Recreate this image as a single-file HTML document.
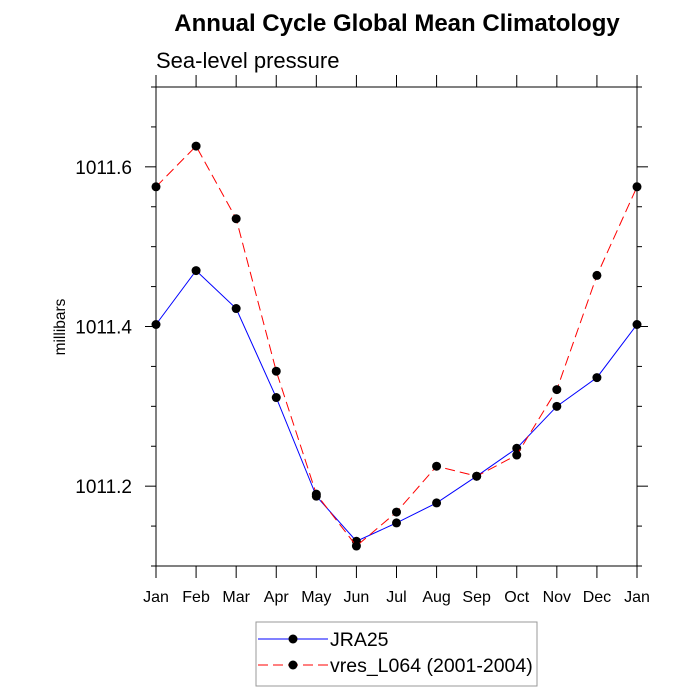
<!DOCTYPE html>
<html><head><meta charset="utf-8"><style>body{margin:0;background:#fff}svg{display:block}text{font-family:"Liberation Sans",sans-serif}</style></head>
<body>
<svg id="c" width="700" height="700"></svg>
<script>
const months=["Jan","Feb","Mar","Apr","May","Jun","Jul","Aug","Sep","Oct","Nov","Dec","Jan"];
const jra25=[1011.4025,1011.47,1011.4225,1011.311,1011.1875,1011.131,1011.154,1011.179,1011.2125,1011.2475,1011.30,1011.336,1011.4025];
const vres=[1011.575,1011.626,1011.535,1011.344,1011.19,1011.125,1011.1675,1011.225,1011.2125,1011.239,1011.321,1011.464,1011.575];
const yMajor=[1011.2,1011.4,1011.6];
const yMinor=[1011.1,1011.15,1011.25,1011.3,1011.35,1011.45,1011.5,1011.55,1011.65,1011.7];
const yLabels=["1011.2","1011.4","1011.6"];
const L=156,R=637,T=87,B=566,ymin=1011.1,ymax=1011.7;
const sx=i=>L+(R-L)*i/(months.length-1);
const sy=v=>B-(v-ymin)/(ymax-ymin)*(B-T);
const svg=document.getElementById('c');const NS="http://www.w3.org/2000/svg";
function mk(t,a,p){const e=document.createElementNS(NS,t);for(const k in a)e.setAttribute(k,a[k]);(p||svg).appendChild(e);return e;}
let e;
e=mk('text',{x:397,y:31,'text-anchor':'middle','font-size':24,'font-weight':'bold'});e.textContent="Annual Cycle Global Mean Climatology";


e=mk('text',{x:156,y:68,'font-size':22});e.textContent="Sea-level pressure";


e=mk('text',{x:0,y:0,'font-size':15.5,'text-anchor':'middle',transform:'translate(65,327) rotate(-90)'});e.textContent="millibars";


e=mk('rect',{x:L,y:T,width:R-L,height:B-T,fill:'none',stroke:'#000','stroke-width':1});


months.forEach((m,i)=>{const x=sx(i);
mk('line',{x1:x,y1:B,x2:x,y2:B+12,stroke:'#000'});mk('line',{x1:x,y1:T,x2:x,y2:T-12,stroke:'#000'});
e=mk('text',{x:x,y:602,'text-anchor':'middle','font-size':16});e.textContent=m;

});
yMajor.forEach((v,i)=>{const y=sy(v);
mk('line',{x1:L,y1:y,x2:L-11,y2:y,stroke:'#000'});mk('line',{x1:R,y1:y,x2:R+11,y2:y,stroke:'#000'});
e=mk('text',{x:132,y:y+7,'text-anchor':'end','font-size':19});e.textContent=yLabels[i];

});
yMinor.forEach(v=>{const y=sy(v);mk('line',{x1:L,y1:y,x2:L-5,y2:y,stroke:'#000'});mk('line',{x1:R,y1:y,x2:R+5,y2:y,stroke:'#000'});});
function series(d,col,dash,name){
e=mk('polyline',{points:d.map((v,i)=>sx(i)+','+sy(v)).join(' '),fill:'none',stroke:col,'stroke-width':1,'stroke-dasharray':dash});


d.forEach((v,i)=>{e=mk('circle',{cx:sx(i),cy:sy(v),r:4.5,fill:'#000'});

});}
series(jra25,'#00f','none','jra25');
series(vres,'#f00','10,5','vres');
const g=mk('g',{});


mk('rect',{x:256,y:622,width:281,height:64,fill:'#fff',stroke:'#999'},g);
mk('line',{x1:258,y1:639,x2:328,y2:639,stroke:'#00f'},g);mk('circle',{cx:293,cy:639,r:4.5,fill:'#000'},g);
e=mk('text',{x:330,y:646,'font-size':19.5},g);e.textContent="JRA25";


mk('line',{x1:258,y1:665,x2:328,y2:665,stroke:'#f00','stroke-dasharray':'10,5'},g);mk('circle',{cx:293,cy:665,r:4.5,fill:'#000'},g);
e=mk('text',{x:330,y:672,'font-size':19.5},g);e.textContent="vres_L064 (2001-2004)";


</script>
</body></html>
